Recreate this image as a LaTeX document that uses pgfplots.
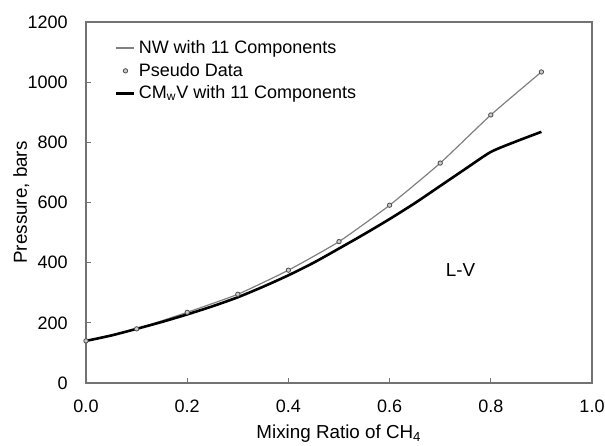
\documentclass[border=0pt]{standalone}
\usepackage{pgfplots}
\pgfplotsset{compat=1.18}
\usepackage{fontspec}
\setmainfont{Liberation Sans}
\definecolor{nwgray}{gray}{0.5}
\definecolor{axgray}{gray}{0.45}
\pgfplotsset{
  lineleg/.style={legend image code/.code={\draw[##1] (0pt,0pt) -- (9pt,0pt);}},
  markleg/.style={legend image code/.code={\draw[##1] plot coordinates {(4.5pt,0pt)};}},
}
\begin{document}
\fontsize{9pt}{11pt}\selectfont
\begin{tikzpicture}
\begin{axis}[
  name=ax,
  scale only axis,
  width=253pt, height=180.5pt,
  xmin=0, xmax=1, ymin=0, ymax=1200,
  axis line style={axgray, line width=0.6pt},
  xtick={0,0.2,...,1.0},
  ytick={0,200,...,1200},
  xtick pos=bottom, ytick pos=left,
  tick align=inside,
  major tick length=2.5pt,
  tick style={axgray, line width=0.6pt},
  /pgf/number format/assume math mode=true,
  /pgf/number format/1000 sep={},
  xticklabel style={/pgf/number format/fixed, /pgf/number format/fixed zerofill, /pgf/number format/precision=1, yshift=-5.5pt},
  yticklabel style={xshift=-6pt},
  ticklabel style={font=\fontsize{9pt}{11pt}\selectfont},
  xlabel={Mixing Ratio of CH\textsubscript{4}},
  ylabel={Pressure, bars},
  label style={font=\fontsize{9.4pt}{11pt}\selectfont},
  xlabel style={yshift=0.5pt},
  ylabel style={yshift=-7pt},
  legend style={draw=none, fill=none, at={(0.045,0.97)}, anchor=north west,
    font=\fontsize{9pt}{11pt}\selectfont, row sep=0.5pt,
    nodes={inner sep=1.5pt, xshift=1.5pt}},
  legend cell align=left,
]
\addplot[nwgray, line width=0.6pt, smooth, tension=0.3, lineleg] coordinates {
 (0,140) (0.1,180) (0.2,235) (0.3,295) (0.4,375) (0.5,470) (0.6,591) (0.7,731) (0.8,891) (0.9,1034)};
\addlegendentry{NW with 11 Components}
\addplot[only marks, mark=*, mark size=1.1pt, draw=gray!60!black, fill=gray!40, markleg] coordinates {
 (0,140) (0.1,180) (0.2,235) (0.3,295) (0.4,375) (0.5,470) (0.6,591) (0.7,731) (0.8,891) (0.9,1034)};
\addlegendentry{Pseudo Data}
\addplot[black, line width=1.3pt, smooth, tension=0.4, lineleg] coordinates {
 (0,140) (0.05,158) (0.1,180) (0.15,203) (0.2,228) (0.25,255) (0.3,285) (0.35,320) (0.4,358) (0.45,400) (0.5,447) (0.55,495) (0.6,545) (0.65,598) (0.7,655) (0.75,712) (0.8,768) (0.85,803) (0.9,835)};
\addlegendentry{CM\textsubscript{w}V with 11 Components}
\node[font=\fontsize{9.4pt}{11pt}\selectfont] at (axis cs:0.74,376) {L-V};
\end{axis}
\pgfresetboundingbox
\path ([shift={(-43pt,-31pt)}]ax.south west) rectangle ([shift={(6.5pt,11pt)}]ax.north east);
\end{tikzpicture}
\end{document}
